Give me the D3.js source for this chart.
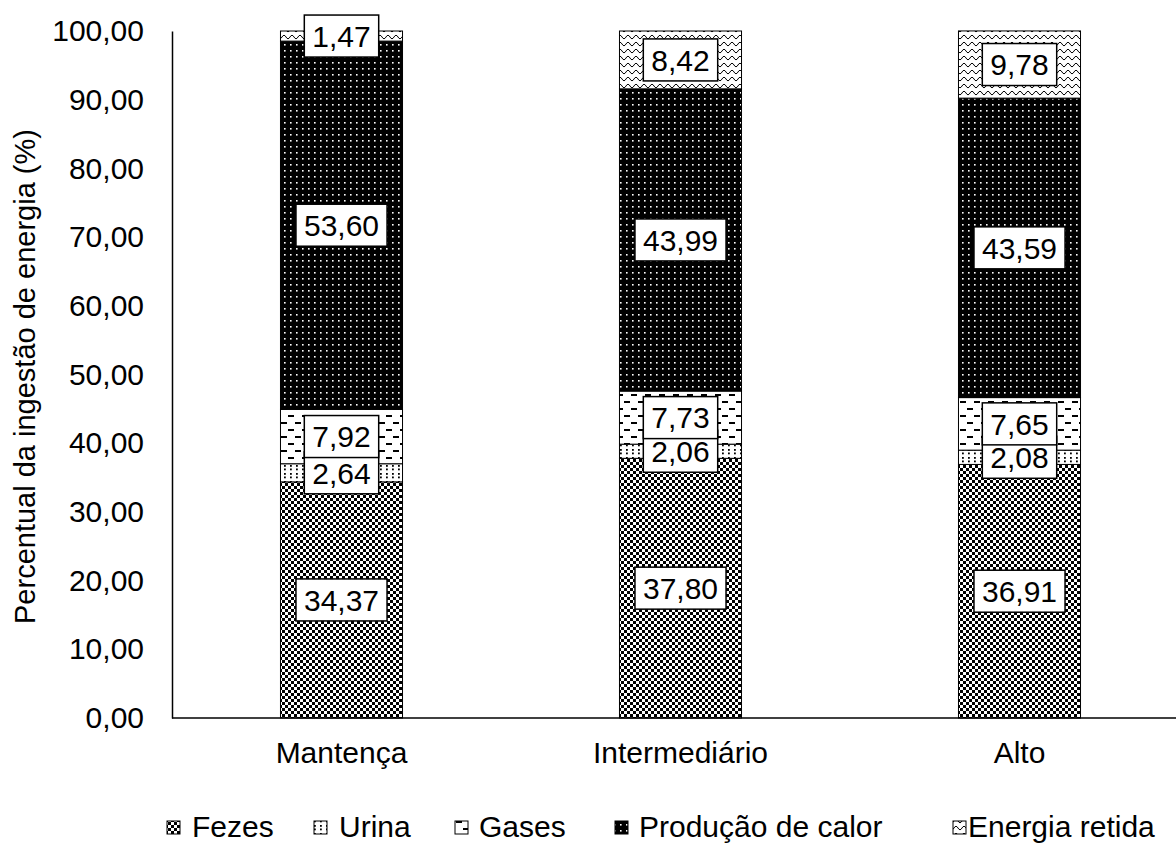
<!DOCTYPE html>
<html>
<head>
<meta charset="utf-8">
<script src="https://cdn.jsdelivr.net/npm/d3@7/dist/d3.min.js"></script>
<style>
  html, body { margin: 0; padding: 0; background: #fff; }
  svg { display: block; font-family: "Liberation Sans", Arial, sans-serif; }
</style>
</head>
<body>
<svg id="chart" width="1176" height="843"></svg>
<script>
// Energy partition (% of intake) per feeding level
const categories = ["Mantença", "Intermediário", "Alto"];
const seriesNames = ["Fezes", "Urina", "Gases", "Produção de calor", "Energia retida"];
const fezes = [34.37, 37.80, 36.91];
const urina = [2.64, 2.06, 2.08];
const gases = [7.92, 7.73, 7.65];
const calor = [53.60, 43.99, 43.59];
const retida = [1.47, 8.42, 9.78];
const yTicks = [0, 10, 20, 30, 40, 50, 60, 70, 80, 90, 100];
const yTitle = "Percentual da ingestão de energia (%)";

const seriesValues = [fezes, urina, gases, calor, retida];
const rows = categories.map((c, i) => {
  const r = { cat: c };
  seriesNames.forEach((s, k) => { r[s] = seriesValues[k][i]; });
  return r;
});

const svg = d3.select("#chart");
const W = 1176, H = 843;
const margin = { left: 172, top: 31, bottom: 125 };
const FS = 30;

const x = d3.scaleBand().domain(categories).range([margin.left, margin.left + 1017])
  .paddingInner(0.64).paddingOuter(0.32);
const y = d3.scaleLinear().domain([0, 100]).range([H - margin.bottom, margin.top]);

// fill patterns
const defs = svg.append("defs");
function pattern(id, w, h, bg) {
  const p = defs.append("pattern").attr("id", id).attr("patternUnits", "userSpaceOnUse")
    .attr("width", w).attr("height", h);
  p.append("rect").attr("width", w).attr("height", h).attr("fill", bg);
  return p;
}
// checkerboard
let p = pattern("pFezes", 6, 6, "#fff");
p.append("rect").attr("x", 0).attr("y", 0).attr("width", 3).attr("height", 3).attr("fill", "#000");
p.append("rect").attr("x", 3).attr("y", 3).attr("width", 3).attr("height", 3).attr("fill", "#000");
// sparse dot pairs
p = pattern("pUrina", 6, 8, "#fff");
[[2, 1], [2, 4.5]].forEach(([a, b]) =>
  p.append("rect").attr("x", a).attr("y", b).attr("width", 1.8).attr("height", 1.8).attr("fill", "#000"));
// horizontal dashes
p = pattern("pGases", 14, 14, "#fff");
p.append("rect").attr("x", 1).attr("y", 2).attr("width", 6).attr("height", 2).attr("fill", "#000");
p.append("rect").attr("x", 8).attr("y", 9).attr("width", 6).attr("height", 2).attr("fill", "#000");
// white dots on black
p = pattern("pCalor", 6, 6, "#000");
p.append("rect").attr("x", 2).attr("y", 2).attr("width", 1.6).attr("height", 1.6).attr("fill", "#fff");
// waves
p = pattern("pRetida", 8, 7, "#fff");
p.append("path").attr("d", "M-2,2 Q0,5.5 2,2 Q4,-1.5 6,2 Q8,5.5 10,2")
  .attr("fill", "none").attr("stroke", "#000").attr("stroke-width", 1);

const fills = ["url(#pFezes)", "url(#pUrina)", "url(#pGases)", "url(#pCalor)", "url(#pRetida)"];

const stack = d3.stack().keys(seriesNames)(rows);

// bars
const gBars = svg.append("g");
stack.forEach((layer, k) => {
  gBars.selectAll(null).data(layer).enter().append("rect")
    .attr("x", d => x(d.data.cat))
    .attr("width", x.bandwidth())
    .attr("y", d => y(d[1]))
    .attr("height", d => y(d[0]) - y(d[1]))
    .attr("fill", fills[k])
    .attr("stroke", "#000")
    .attr("stroke-width", 1);
});

// axes
const fmt = v => d3.format(".2f")(v).replace(".", ",");
const yAxis = d3.axisLeft(y).tickValues(yTicks).tickFormat(fmt).tickSize(0).tickPadding(28);
const gy = svg.append("g").attr("transform", `translate(${margin.left},0)`).call(yAxis);
gy.select(".domain").attr("stroke", "#000").attr("stroke-width", 1.5);
gy.selectAll("text").attr("font-size", FS).attr("fill", "#000")
  .attr("font-family", "Liberation Sans, Arial, sans-serif");

const xAxis = d3.axisBottom(x).tickSize(0).tickPadding(24);
const gx = svg.append("g").attr("transform", `translate(0,${y(0)})`).call(xAxis);
gx.select(".domain").attr("stroke", "#000").attr("stroke-width", 1.5)
  .attr("d", `M${margin.left},0H${W}`);
gx.selectAll("text").attr("font-size", FS).attr("fill", "#000")
  .attr("font-family", "Liberation Sans, Arial, sans-serif");

// value labels
const gLab = svg.append("g");
stack.forEach((layer, k) => {
  layer.forEach(d => {
    const v = d.data[seriesNames[k]];
    const cx = x(d.data.cat) + x.bandwidth() / 2;
    const cy = y((d[0] + d[1]) / 2);
    const t = gLab.append("text").attr("x", cx).attr("y", cy)
      .attr("text-anchor", "middle").attr("dy", "0.36em")
      .attr("font-size", FS).attr("fill", "#000").text(fmt(v));
    const bb = t.node().getBBox();
    gLab.insert("rect", () => t.node())
      .attr("x", cx - bb.width / 2 - 8).attr("width", bb.width + 16)
      .attr("y", cy - 21).attr("height", 42)
      .attr("fill", "#fff").attr("stroke", "#000").attr("stroke-width", 1.5);
  });
});

// y title
svg.append("text").attr("transform", `translate(35,${(y(0) + y(100)) / 2 + 2}) rotate(-90)`)
  .attr("text-anchor", "middle").attr("font-size", 29).attr("fill", "#000").text(yTitle);

// legend
const legendIconX = [167, 314, 455, 615, 953];
const legendTextX = [192, 339, 479, 639, 968];
const gLeg = svg.append("g");
seriesNames.forEach((s, k) => {
  gLeg.append("rect").attr("x", legendIconX[k]).attr("y", 821).attr("width", 13).attr("height", 13)
    .attr("fill", fills[k]).attr("stroke", "#000").attr("stroke-width", 1);
  gLeg.append("text").attr("x", legendTextX[k]).attr("y", 837)
    .attr("font-size", FS).attr("fill", "#000").text(s);
});
</script>
</body>
</html>
